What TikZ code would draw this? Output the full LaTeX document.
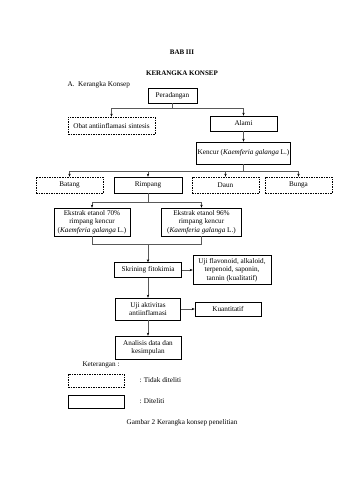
\documentclass[tikz,border=0pt]{standalone}
\usepackage{fontspec}
\setmainfont{Liberation Serif}
\usetikzlibrary{arrows.meta}

\begin{document}
\begin{tikzpicture}[x=1pt,y=-1pt,
    txt/.style={font=\fontsize{7.2}{8.4}\selectfont},
    box/.style={draw,line width=0.6pt,align=center,inner sep=1pt,txt},
    dbox/.style={box,dash pattern=on 1.5pt off 1pt},
    con/.style={black!65,line width=0.4pt},
    arr/.style={con,-{Stealth[length=3pt,width=2.4pt,black]}},
]
\fill[white] (0,0) rectangle (339,480);
\useasboundingbox (0,0) rectangle (339,480);

\node[txt,font=\fontsize{7}{8}\selectfont\bfseries] (bab) at (182,52) {BAB III};
\node[txt,font=\fontsize{7}{8}\selectfont\bfseries] (judul) at (182,73) {KERANGKA KONSEP};
\node[txt,anchor=west] (sub) at (64,84.5) {A.\ \ Kerangka Konsep};

\node[box,minimum width=49,minimum height=15] (pera) at (172.5,95.5) {Peradangan};
\node[dbox,minimum width=87,minimum height=17] (obat) at (111.5,125.5) {Obat antiinflamasi sintesis};
\node[box,minimum width=67,minimum height=15] (alami) at (243.5,123.5) {Alami};
\node[box,minimum width=89,minimum height=22] (kencur) at (243.5,153) {Kencur (\textit{Kaemferia galanga} L.)};

\node[dbox,minimum width=67,minimum height=16] (batang) at (69.5,185) {Batang};
\node[box,minimum width=68,minimum height=16] (rimpang) at (148,185) {Rimpang};
\node[dbox,minimum width=67,minimum height=16] (daun) at (225.5,185) {Daun};
\node[dbox,minimum width=67,minimum height=16] (bunga) at (298.5,185) {Bunga};

\node[box,minimum width=76,minimum height=28] (eks70) at (92,222) {Ekstrak etanol 70\%\\rimpang kencur\\(\textit{Kaemferia galanga} L.)};
\node[box,minimum width=80,minimum height=28] (eks96) at (201.5,222) {Ekstrak etanol 96\%\\rimpang kencur\\(\textit{Kaemferia galanga} L.)};

\node[box,minimum width=67,minimum height=15] (skrining) at (148,270) {Skrining fitokimia};
\node[box,minimum width=78,minimum height=29] (flav) at (232,270) {Uji flavonoid, alkaloid,\\terpenoid, saponin,\\tannin (kualitatif)};
\node[box,minimum width=65,minimum height=22] (uji) at (148,309) {Uji aktivitas\\antiinflamasi};
\node[box,minimum width=66,minimum height=14] (kuant) at (228,309) {Kuantitatif};
\node[box,minimum width=66,minimum height=23] (analisis) at (148,347.5) {Analisis data dan\\kesimpulan};

% percabangan
\coordinate (j1) at (172.5,108);
\coordinate (j2) at (243.5,171);
\coordinate (j3) at (148,202);
\coordinate (j4) at (148,244);

\draw[con] (pera) -- (j1);
\draw[arr] (j1) -| (obat.north);
\draw[arr] (j1) -| (alami.north);
\draw[arr] (alami) -- (kencur);
\draw[con] (kencur) -- (j2);
\draw[arr] (j2) -| (batang.north);
\draw[arr] (j2) -| (rimpang.north);
\draw[arr] (j2) -| (daun.north);
\draw[arr] (j2) -| (bunga.north);
\draw[con] (rimpang) -- (j3);
\draw[arr] (j3) -| (eks70.north);
\draw[arr] (j3) -| (eks96.north);
\draw[con] (eks70.south) |- (j4);
\draw[con] (eks96.south) |- (j4);
\draw[arr] (j4) -- (skrining);
\draw[arr] (skrining) -- (flav);
\draw[arr] (skrining) -- (uji);
\draw[arr] (uji) -- (kuant);
\draw[arr] (uji) -- (analisis);

% keterangan
\node[txt,anchor=west] (ket) at (79,365) {Keterangan :};
\node[dbox,minimum width=56,minimum height=13] (leg1) at (96,380.5) {};
\node[txt,anchor=west] (leg1t) at (136,380.5) {: Tidak diteliti};
\node[box,minimum width=56,minimum height=13] (leg2) at (96,401.5) {};
\node[txt,anchor=west] (leg2t) at (136,401.5) {: Diteliti};

\node[txt] (caption) at (182,423) {Gambar 2 Kerangka konsep penelitian};
\end{tikzpicture}
\end{document}
